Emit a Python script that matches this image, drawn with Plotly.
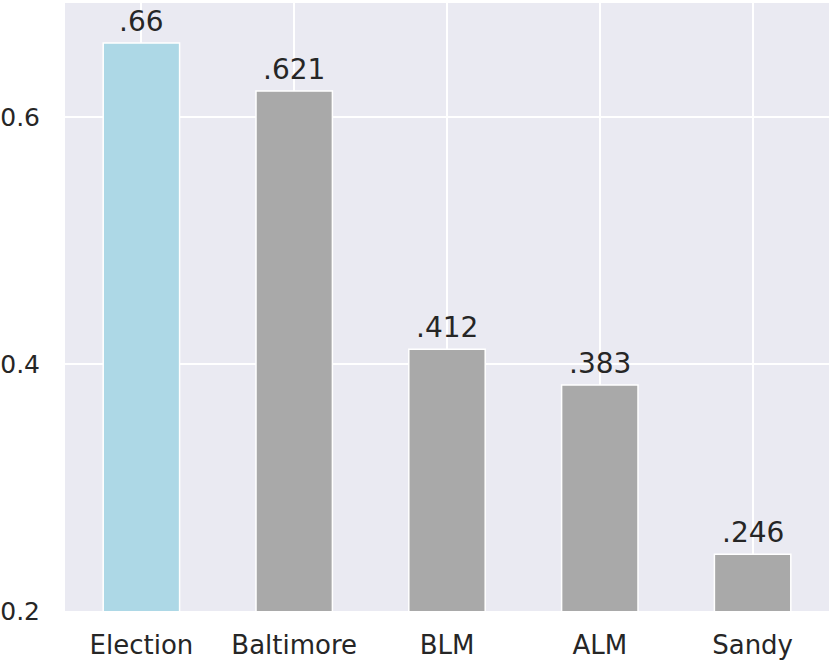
import plotly.graph_objects as go

categories = ["Election", "Baltimore", "BLM", "ALM", "Sandy"]
values = [0.66, 0.621, 0.412, 0.383, 0.246]
labels = [".66", ".621", ".412", ".383", ".246"]
colors = ["#ADD8E6", "#A9A9A9", "#A9A9A9", "#A9A9A9", "#A9A9A9"]
y_ticks = [0.2, 0.4, 0.6]
y_tick_labels = ["0.2", "0.4", "0.6"]

fig = go.Figure(go.Bar(
    x=categories, y=values, width=0.5,
    marker=dict(color=colors, line=dict(color="white", width=1.5)),
    hoverinfo="x+y",
))
for c, v, t in zip(categories, values, labels):
    fig.add_annotation(x=c, y=v, text=t, showarrow=False, yanchor="bottom",
                       xanchor="center", yshift=3,
                       font=dict(size=28, color="#262626", family="DejaVu Sans"))
fig.update_layout(
    width=830, height=661,
    margin=dict(l=65, r=1, t=3, b=50, autoexpand=False),
    paper_bgcolor="white", plot_bgcolor="#EAEAF2",
    font=dict(family="DejaVu Sans", size=26, color="#262626"),
    showlegend=False,
)
fig.update_xaxes(
    range=[-0.5, 4.5], showgrid=True, gridcolor="white", gridwidth=1.5,
    ticks="outside", ticklen=11, tickcolor="rgba(0,0,0,0)", automargin=False,
    tickfont=dict(size=26, color="#262626"), zeroline=False, showline=False,
)
fig.update_yaxes(
    range=[0.2, 0.6923], tickvals=y_ticks, ticktext=y_tick_labels,
    showgrid=True, gridcolor="white", gridwidth=1.5, automargin=False,
    ticks="outside", ticklen=19, tickcolor="rgba(0,0,0,0)",
    tickfont=dict(size=25, color="#262626"), zeroline=False, showline=False,
)
fig.write_html("out.html", config={"displayModeBar": False},
               post_script="document.body.style.margin='0px';document.body.style.overflow='hidden';")
